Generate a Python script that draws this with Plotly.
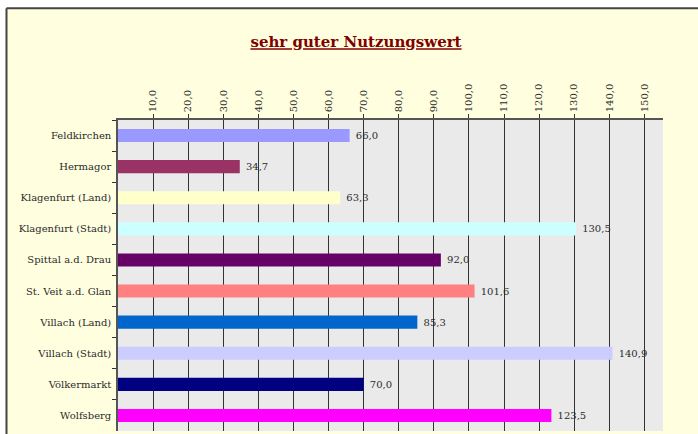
import plotly.graph_objects as go

categories = ["Feldkirchen", "Hermagor", "Klagenfurt (Land)", "Klagenfurt (Stadt)",
              "Spittal a.d. Drau", "St. Veit a.d. Glan", "Villach (Land)",
              "Villach (Stadt)", "Völkermarkt", "Wolfsberg"]
values = [66.0, 34.7, 63.3, 130.5, 92.0, 101.6, 85.3, 140.9, 70.0, 123.5]
colors = ["#9999FF", "#993366", "#FFFFCC", "#CCFFFF", "#660066",
          "#FF8080", "#0066CC", "#CCCCFF", "#000080", "#FF00FF"]
tick_values = [10, 20, 30, 40, 50, 60, 70, 80, 90, 100, 110, 120, 130, 140, 150]
tick_labels = [f"{v:.1f}".replace(".", ",") for v in tick_values]
value_labels = [" " + f"{v:.1f}".replace(".", ",") for v in values]

W, H = 698, 434
L, R, T, B = 118, 663, 119.5, 431

FONT = "DejaVu Serif"

fig = go.Figure(go.Bar(
    y=categories, x=values, orientation="h",
    marker=dict(color=colors, line=dict(width=0)),
    text=value_labels, textposition="outside", cliponaxis=False,
    textfont=dict(family=FONT, size=10, color="#2a2a2a"),
    hoverinfo="skip",
))

def px(x):
    return (x - L) / (R - L)

def py(y):
    return (B - y) / (B - T)

fig.update_layout(
    width=W, height=H,
    margin=dict(l=L, r=W - R, t=T, b=H - B, pad=0),
    paper_bgcolor="#FFFFE0",
    plot_bgcolor="#EAEAEA",
    showlegend=False,
    bargap=0.58,
    font=dict(family=FONT, size=10, color="#2a2a2a"),
    title=dict(text="<b><u>sehr guter Nutzungswert</u></b>",
               font=dict(family=FONT, size=15, color="#800000"),
               x=px(356), xref="paper", xanchor="center",
               y=1 - 42 / H, yref="container", yanchor="middle"),
    xaxis=dict(side="top", range=[0, 155.3], tickvals=tick_values, ticktext=tick_labels,
               tickangle=-90, ticks="outside", ticklen=4, tickcolor="#333333",
               showgrid=True, gridcolor="#333333", gridwidth=1, zeroline=False,
               showline=True, linecolor="#555555", linewidth=1.5,
               tickfont=dict(family=FONT, size=10, color="#2a2a2a"), fixedrange=True),
    yaxis=dict(autorange="reversed", ticks="outside", tickson="boundaries", ticklen=4,
               tickcolor="#333333", showline=True, linecolor="#555555", linewidth=1.5,
               showgrid=False, ticklabelstandoff=3,
               tickfont=dict(family=FONT, size=10, color="#2a2a2a"),
               fixedrange=True),
    shapes=[
        dict(type="rect", xref="paper", yref="paper", x0=px(-5), x1=px(W + 5), y0=py(7.5), y1=py(-5),
             fillcolor="white", line=dict(width=0), layer="above"),
        dict(type="rect", xref="paper", yref="paper", x0=px(-5), x1=px(6.5), y0=py(H + 5), y1=py(-5),
             fillcolor="white", line=dict(width=0), layer="above"),
        dict(type="line", xref="paper", yref="paper", x0=px(6.5), x1=px(W + 5), y0=py(7.5), y1=py(7.5),
             line=dict(color="#444444", width=2), layer="above"),
        dict(type="line", xref="paper", yref="paper", x0=px(6.5), x1=px(6.5), y0=py(7.5), y1=py(H + 5),
             line=dict(color="#444444", width=2), layer="above"),
    ],
)

fig.write_html("out.html", config={"displayModeBar": False},
               post_script="document.body.style.margin='0px';document.body.style.overflow='hidden';")
